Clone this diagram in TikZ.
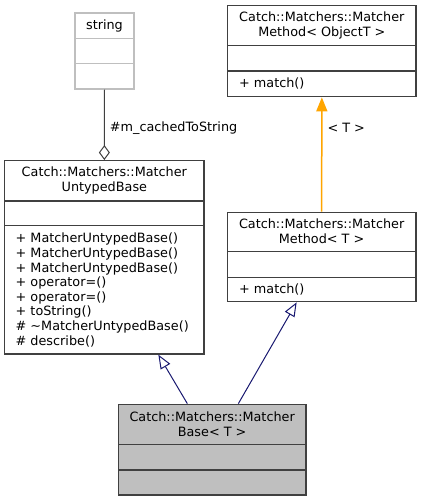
\documentclass[tikz,border=0pt]{standalone}
\usepackage{fontspec}
\setmainfont{DejaVu Sans}
\usetikzlibrary{arrows.meta,calc}
\definecolor{boxline}{HTML}{404040}
\definecolor{lightline}{HTML}{BFBFBF}
\definecolor{navy}{HTML}{191970}
\definecolor{orangeline}{HTML}{FFA500}
\definecolor{grayfill}{HTML}{BFBFBF}
\begin{document}
\begin{tikzpicture}[x=1pt,y=-1pt,
  every node/.style={inner sep=0pt,font=\fontsize{12.8}{14.6}\selectfont},
  classbox/.style={draw=boxline,line width=1.3pt,fill=white},
  divline/.style={draw=boxline,line width=1.3pt},
  txt/.style={align=center},
  members/.style={align=left,anchor=west},
  inherit/.style={draw=navy,line width=1pt,-{Triangle[open,length=14pt,width=11pt]}},
  templ/.style={draw=orangeline,line width=1.5pt,-{Triangle[length=14pt,width=11pt]}},
  aggr/.style={draw=boxline,line width=1pt,{Diamond[open,length=15pt,width=11pt]}-}
]
\useasboundingbox (0,0) rectangle (421,501);

% string
\node[draw=lightline,line width=1.3pt,fill=white,minimum width=59pt,minimum height=76pt] (str) at (104.5,51) {};
\draw[draw=lightline,line width=1.3pt] (75,38.7) -- (134,38.7) (75,63.7) -- (134,63.7);
\node[txt] (strt) at (104.5,25.5) {string};

% MatcherMethod< ObjectT >
\node[classbox,minimum width=188.3pt,minimum height=91pt] (mmo) at (321.85,51.2) {};
\draw[divline] (227.7,45.7) -- (416,45.7) (227.7,71) -- (416,71);
\node[txt] (mmot) at (321.85,25.5) {Catch::Matchers::Matcher\\Method\textless{} ObjectT \textgreater{}};
\node[members] (mmom) at (239,83.5) {+ match()};

% MatcherUntypedBase
\node[classbox,minimum width=199.3pt,minimum height=193.3pt] (ub) at (104.35,257.35) {};
\draw[divline] (4.7,201) -- (204,201) (4.7,225.7) -- (204,225.7);
\node[txt] (ubt) at (104.35,180.5) {Catch::Matchers::Matcher\\UntypedBase};
\node[members] (ubm) at (15.5,290) {+ MatcherUntypedBase()\\+ MatcherUntypedBase()\\+ MatcherUntypedBase()\\+ operator=()\\+ operator=()\\+ toString()\\\# \textasciitilde MatcherUntypedBase()\\\# describe()};

% MatcherMethod< T >
\node[classbox,minimum width=188.7pt,minimum height=89.4pt] (mmt) at (321.65,257) {};
\draw[divline] (227.3,251.7) -- (416,251.7) (227.3,277.7) -- (416,277.7);
\node[txt] (mmtt) at (321.65,231) {Catch::Matchers::Matcher\\Method\textless{} T \textgreater{}};
\node[members] (mmtm) at (239,289.3) {+ match()};

% MatcherBase< T >
\node[classbox,fill=grayfill,minimum width=187.7pt,minimum height=90.7pt] (mb) at (212.15,449.65) {};
\draw[divline] (118.3,444.3) -- (306,444.3) (118.3,470) -- (306,470);
\node[txt] (mbt) at (212.15,424) {Catch::Matchers::Matcher\\Base\textless{} T \textgreater{}};

% connectors
\draw[aggr] (ub.north) -- (str.south) node[pos=0.46,anchor=west,xshift=5pt] (lab1) {\#m\_cachedToString};
\draw[templ] (mmt.north) -- (mmo.south) node[pos=0.73,anchor=west,xshift=5pt] (lab2) {\textless{} T \textgreater{}};
\draw[inherit] ($(mb.north)+(-24.8,0)$) -- ($(ub.south)+(54,0)$);
\draw[inherit] ($(mb.north)+(26.2,0)$) -- ($(mmt.south)+(-25,0)$);
\end{tikzpicture}
\end{document}
